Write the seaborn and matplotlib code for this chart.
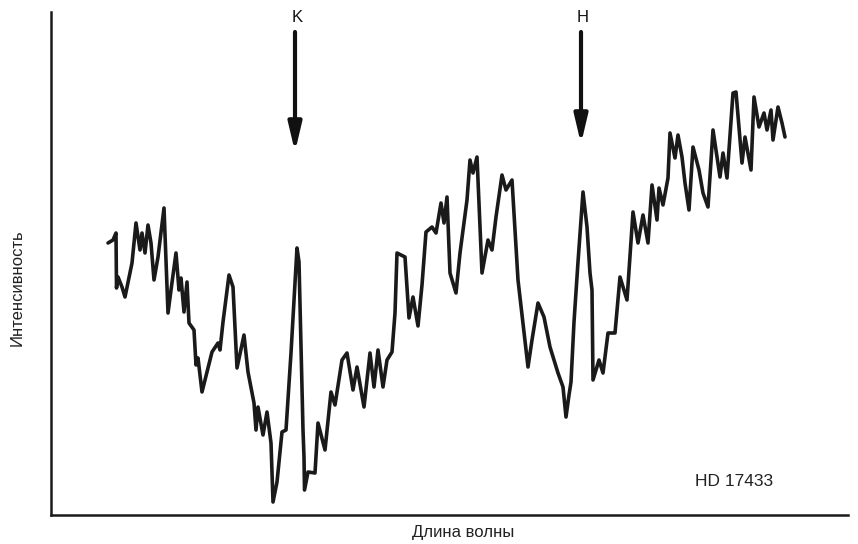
import matplotlib
matplotlib.use("Agg")
import matplotlib.pyplot as plt
import numpy as np
import pandas as pd
import seaborn as sns

# Microphotometer trace of the spectrum of HD 17433 (arbitrary units)
wavelength = [
    108, 113, 116, 116.5, 118, 122, 125, 132, 136, 140, 142, 145, 148, 151, 154, 158,
    164, 168, 171, 176, 179, 181, 184, 187, 189, 194, 196, 198, 202, 212, 218, 220,
    223, 229, 233, 237, 244, 248, 254, 256, 258, 263, 267, 271, 273, 277, 282, 286,
    291, 294, 297, 299, 300, 303, 304, 304.5, 308, 315, 318, 325, 331, 335, 342, 347,
    353, 357, 364, 370, 374, 378, 383, 387, 392, 395, 397, 405, 409, 413, 418, 422,
    426, 432, 436, 441, 444, 447, 450, 456, 460, 467, 470, 473, 477, 482, 488, 492,
    496, 502, 506, 512, 518, 528, 532, 538, 544, 550, 558, 563, 566, 569, 571, 574,
    578, 583, 587, 590, 592, 593, 599, 603, 608, 615, 620, 627, 633, 638, 643, 648,
    652, 657, 659, 663, 668, 670, 675, 678, 682, 685, 689, 693, 699, 703, 708, 713,
    717, 720, 723, 727, 733, 736, 742, 745, 751, 754, 759, 764, 767, 771, 773, 778,
    782, 785,
]
intensity = [
    272, 275, 282, 227, 238, 228, 218, 252, 292, 265, 282, 262, 290, 272, 235, 258,
    307, 202, 225, 262, 225, 237, 203, 233, 192, 185, 150, 157, 123, 163, 172, 165,
    193, 240, 228, 147, 180, 143, 112, 85, 108, 80, 103, 72, 13, 33, 83, 85,
    162, 215, 267, 253, 210, 85, 58, 25, 43, 42, 92, 65, 123, 110, 155, 162,
    125, 148, 108, 162, 128, 165, 128, 155, 163, 202, 262, 258, 197, 218, 189, 230,
    283, 288, 282, 312, 292, 318, 242, 222, 262, 315, 355, 342, 358, 242, 275, 265,
    298, 340, 325, 335, 235, 148, 175, 212, 198, 168, 142, 128, 98, 120, 133, 193,
    253, 323, 288, 242, 225, 135, 155, 142, 182, 182, 238, 215, 303, 272, 300, 272,
    330, 295, 327, 310, 337, 382, 357, 380, 358, 332, 305, 368, 345, 322, 308, 385,
    358, 338, 362, 337, 422, 423, 352, 378, 345, 418, 388, 402, 385, 405, 375, 408,
    392, 378,
]

# Absorption-line markers: label, position, arrow tail and tip heights
line_labels = ["K", "H"]
line_positions = [295, 581]
arrow_tail = [483, 483]
arrow_tip = [363, 371]

df = pd.DataFrame({"wavelength": wavelength, "intensity": intensity})

sns.set_style("white")
plt.rcParams["font.family"] = ["Liberation Sans Narrow", "Liberation Sans", "DejaVu Sans"]

fig = plt.figure(figsize=(8.58, 5.44), dpi=100)
ax = fig.add_axes([51 / 858, 29 / 544, 797 / 858, 503 / 544])

sns.lineplot(data=df, x="wavelength", y="intensity", ax=ax, color="#1a1a1a",
             linewidth=2.6, sort=False, estimator=None)

ax.set_xlim(51, 848)
ax.set_ylim(0, 503)
ax.set_xticks([])
ax.set_yticks([])
ax.set_xlabel("")
ax.set_ylabel("")

for side in ("top", "right"):
    ax.spines[side].set_visible(False)
for side in ("left", "bottom"):
    ax.spines[side].set_color("#1a1a1a")
    ax.spines[side].set_linewidth(1.8)

for lab, xpos, tail, tip in zip(line_labels, line_positions, arrow_tail, arrow_tip):
    ax.annotate("", xy=(xpos, tip), xytext=(xpos, tail),
                arrowprops=dict(arrowstyle="-|>,head_width=0.4,head_length=1.7",
                                color="#111111", lw=3.0, shrinkA=0, shrinkB=0))
    ax.text(xpos + 2, tail + 14, lab, ha="center", va="center",
            fontsize=12, color="#111111")

ax.text(734, 33, "HD 17433", ha="center", va="center", fontsize=12.5, color="#222222")

fig.text(17 / 858, 1 - 288 / 544, "Интенсивность", rotation=90,
         ha="center", va="center", fontsize=12, color="#222222")
fig.text(463 / 858, 1 - 533 / 544, "Длина волны",
         ha="center", va="center", fontsize=12, color="#222222")

fig.savefig("out.png", dpi=100, facecolor="white")
